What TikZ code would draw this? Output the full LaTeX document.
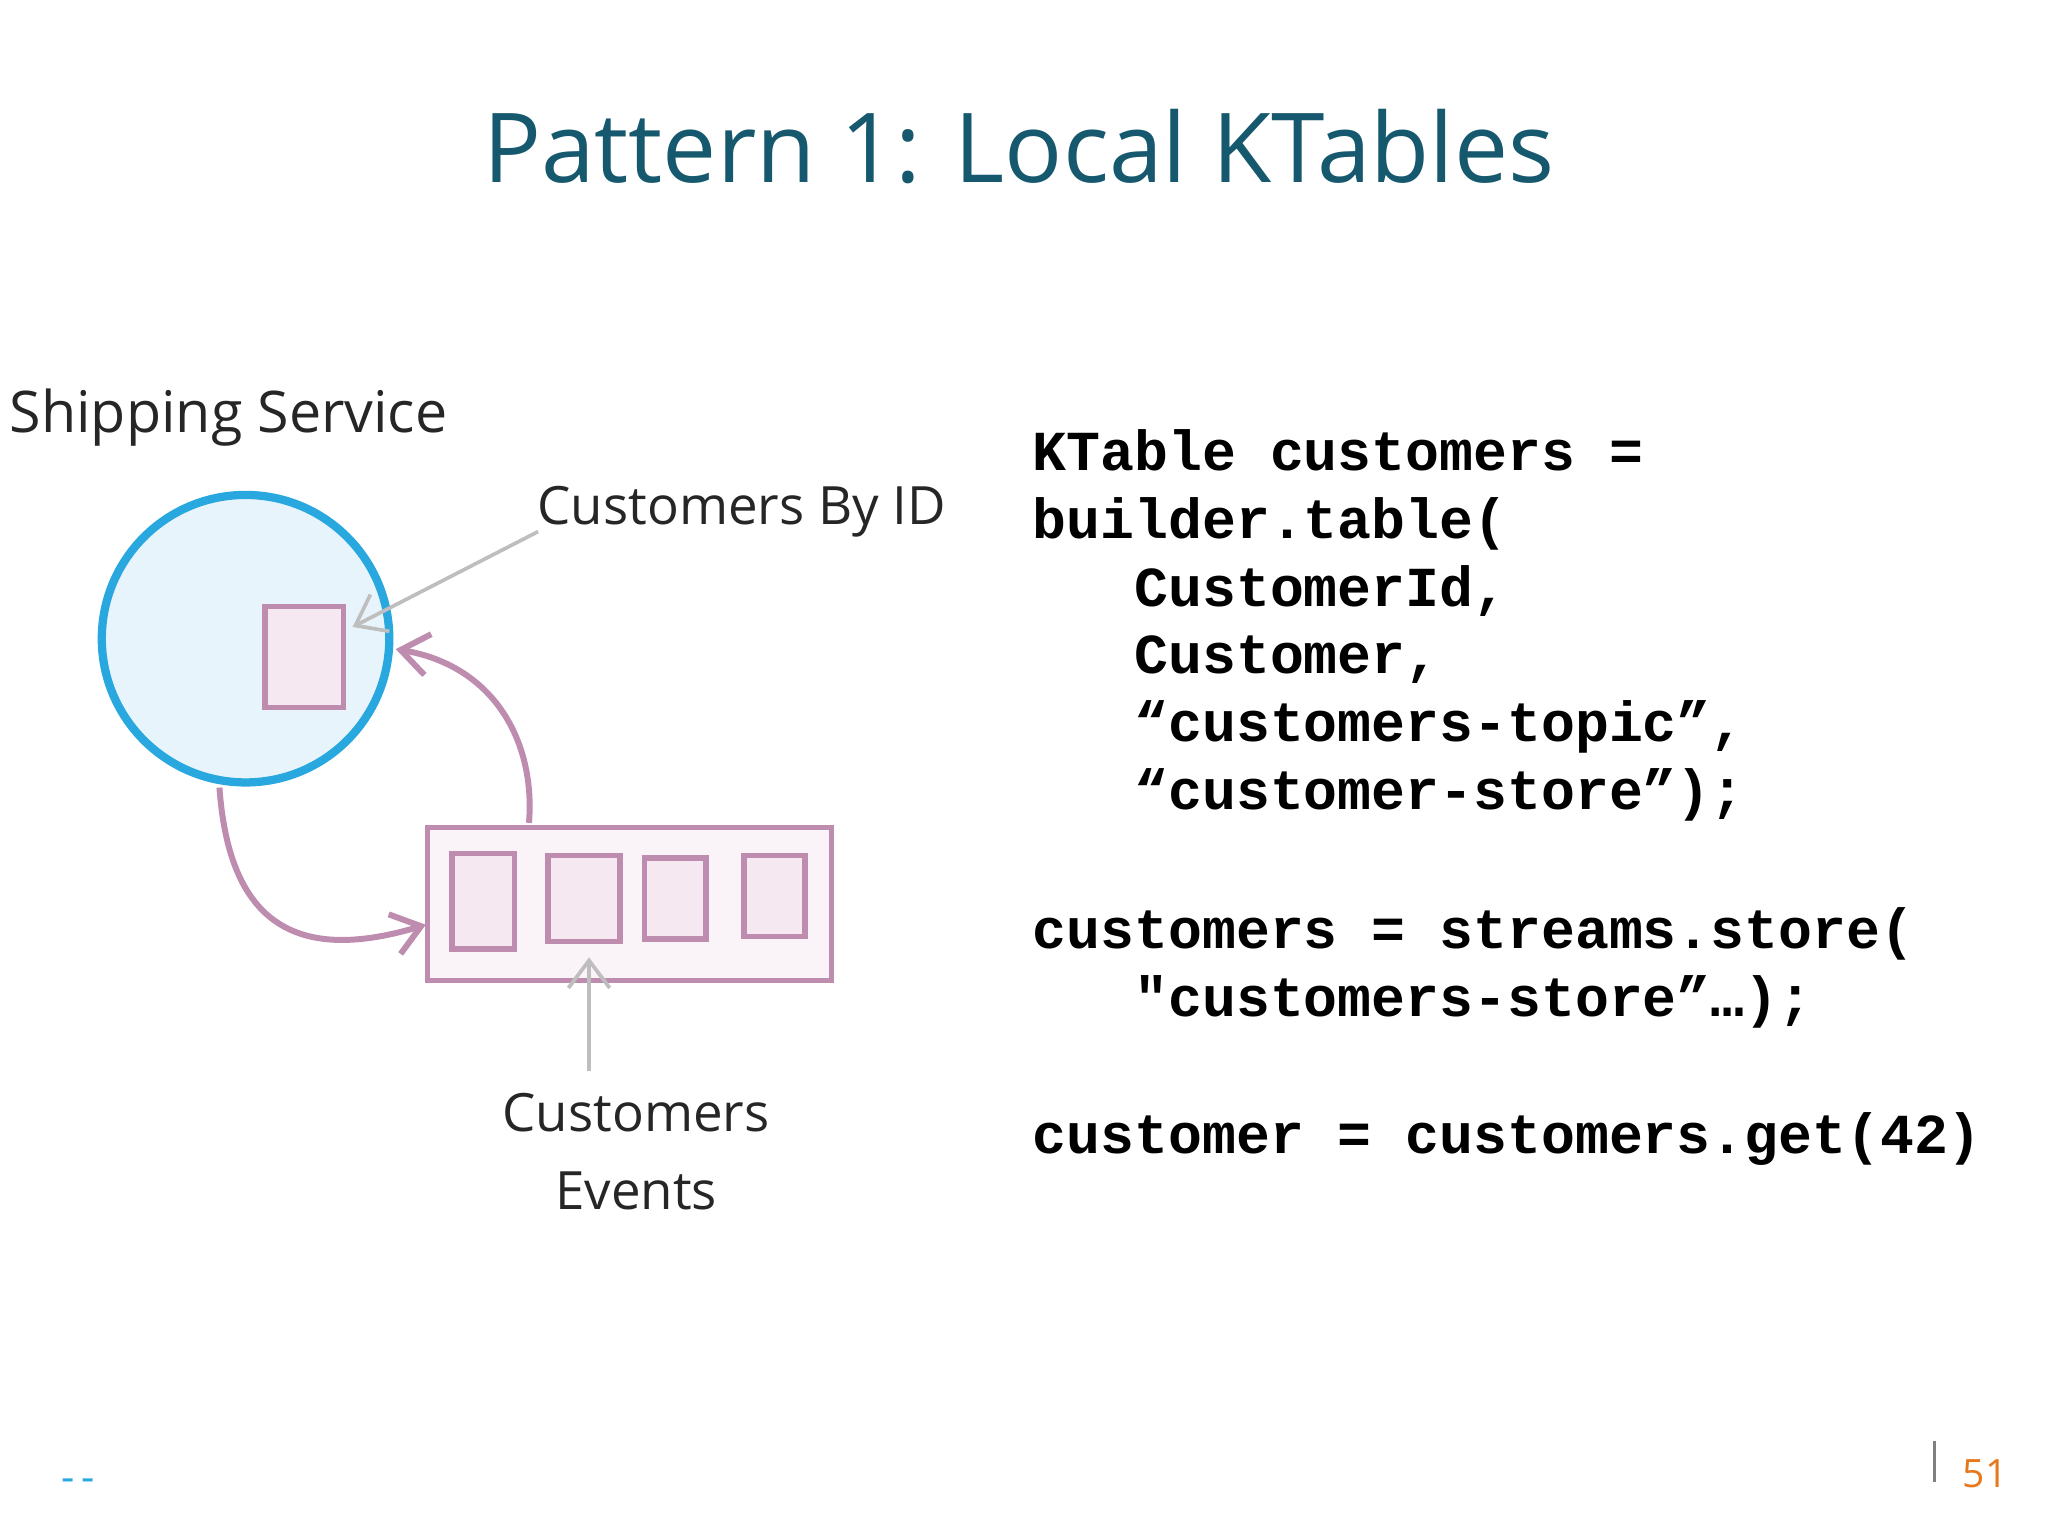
\documentclass[tikz,border=0pt]{standalone}
\usepackage{fontspec}
\setmainfont{Open Sans}
\newfontfamily\codefont{Liberation Mono}
\usetikzlibrary{arrows.meta}
\definecolor{titlec}{RGB}{22,88,110}
\definecolor{circc}{RGB}{41,168,224}
\definecolor{circf}{RGB}{232,244,252}
\definecolor{pinkd}{RGB}{190,140,175}
\definecolor{pinkf}{RGB}{245,232,240}
\definecolor{grayc}{RGB}{190,190,190}
\definecolor{orng}{RGB}{230,120,30}
\tikzset{
 hand/.style={font=\fontsize{11.5}{14}\selectfont, text=black!85},
 code/.style={anchor=base west, inner sep=0pt, font=\codefont\bfseries\fontsize{12.3}{14.8}\selectfont},
 cell/.style={draw=pinkd, fill=pinkf, line width=1.2pt},
 pink arrow/.style={draw=pinkd, line width=1.3pt, -{Straight Barb[length=6pt,width=9pt]}},
 gray arrow/.style={draw=grayc, line width=0.8pt, -{Straight Barb[length=6pt,width=9pt]}}
}
\begin{document}
\begin{tikzpicture}[x=0.01cm,y=-0.01cm]
\useasboundingbox (0,0) rectangle (1568,1176);
\node[text=titlec, font=\fontsize{21}{25}\selectfont] (title) at (780,112) {Pattern 1: Local KTables};
\node[hand, font=\fontsize{12.5}{15}\selectfont] (ship) at (175,320) {Shipping Service};
\node[circle, draw=circc, fill=circf, line width=1.8pt, minimum size=2.2cm, inner sep=0pt] (circ) at (188,489) {};
\node[cell, minimum width=0.6cm, minimum height=0.77cm] (small) at (233,503) {};
\node[cell, fill=pinkf!50, minimum width=3.09cm, minimum height=1.17cm] (box) at (482,692) {};
\node[cell, minimum width=0.48cm, minimum height=0.73cm] (c1) at (370,690) {};
\node[cell, minimum width=0.55cm, minimum height=0.66cm] (c2) at (447,688) {};
\node[cell, minimum width=0.47cm, minimum height=0.62cm] (c3) at (517,688) {};
\node[cell, minimum width=0.47cm, minimum height=0.62cm] (c4) at (593,686) {};
\node[hand] (byid) at (568,392) {Customers By ID};
\node[hand] (ce1) at (487,852) {Customers};
\node[hand] (ce2) at (487,912) {Events};
\coordinate (bs) at (412,407);
\coordinate (ce) at (451,820);
\draw[gray arrow] (bs) -- (270,480);
\draw[gray arrow] (ce) -- (451,733);
\draw[pink arrow] (405,630) .. controls (410,570) and (380,510) .. (303,497);
\draw[pink arrow] (168,603) .. controls (175,700) and (220,740) .. (326,708);
\node[code] (l1) at (790,360) {KTable customers =};
\node[code] (l2) at (790,412) {builder.table(};
\node[code] (l3) at (790,464) {\ \ \ CustomerId,};
\node[code] (l4) at (790,516) {\ \ \ Customer,};
\node[code] (l5) at (790,568) {\ \ \ “customers-topic”,};
\node[code] (l6) at (790,620) {\ \ \ “customer-store”);};
\node[code] (l7) at (790,726) {customers = streams.store(};
\node[code] (l8) at (790,778) {\ \ \ "customers-store”…);};
\node[code] (l9) at (790,883) {customer = customers.get(42)};
\draw[gray, line width=0.8pt] (1481,1103) -- (1481,1135);
\node[text=orng, font=\fontsize{8.5}{10}\selectfont] (pg) at (1520,1128) {51};
\node[text=circc, font=\fontsize{9}{10}\selectfont] (dash) at (60,1137) {-\,-};
\end{tikzpicture}
\end{document}
